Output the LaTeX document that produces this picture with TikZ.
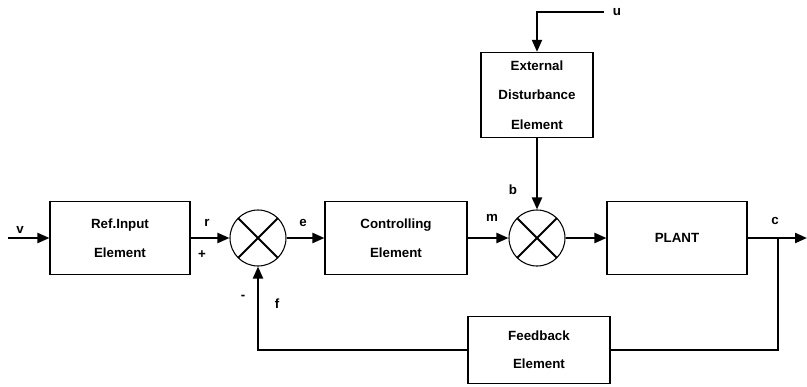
\documentclass[tikz,border=0pt]{standalone}
\usepackage{fontspec}
\setmainfont{Liberation Sans}
\usetikzlibrary{arrows.meta}
\tikzset{
  block/.style={draw,line width=0.8pt,minimum width=0.75*#1,minimum height=55,inner sep=0pt,align=center,font=\fontsize{10}{22}\selectfont\bfseries},
  block/.default=140,
  sumjunc/.style={draw,circle,line width=0.8pt,minimum size=42,inner sep=0pt,
    path picture={\draw[line width=1.5pt] (path picture bounding box.south west) -- (path picture bounding box.north east)
      (path picture bounding box.north west) -- (path picture bounding box.south east);}},
  sig/.style={line width=1.6pt,-{Triangle[length=9pt,width=7.5pt]}},
  wire/.style={line width=1.6pt},
  lbl/.style={font=\fontsize{10}{12}\selectfont\bfseries,inner sep=1pt}
}
\begin{document}
\begin{tikzpicture}[x=0.75pt,y=-0.75pt]
\def\yc{238};
\useasboundingbox[fill=white] (0,0) rectangle (807,386);
% blocks
\node[block] (ref) at (120,\yc) {Ref.Input\\Element};
\node[block=142] (ctrl) at (396,\yc) {Controlling\\Element};
\node[block] (plant) at (677,\yc) {PLANT};
\node[block=112,minimum height=64,font=\fontsize{10}{22}\selectfont\bfseries] (dist) at (537,95) {External\\Disturbance\\Element};
\node[block=142,minimum height=50,font=\fontsize{10}{21}\selectfont\bfseries] (fb) at (539,350) {Feedback\\Element};
% summing points
\foreach \n/\x in {sumA/258,sumB/537} {
  \node[sumjunc] (\n) at (\x,\yc) {};
}
% free ends
\coordinate (vin) at (8,\yc);
\coordinate (cout) at (807,\yc);
\coordinate (uin) at (604,12);
\coordinate (branch) at (778,\yc);
% signals
\draw[sig] (vin) -- (ref);
\draw[sig] (ref) -- (sumA);
\draw[sig] (sumA) -- (ctrl);
\draw[sig] (ctrl) -- (sumB);
\draw[sig] (sumB) -- (plant);
\draw[sig] (plant) -- (cout);
\draw[sig] (uin) -| (dist.north);
\draw[sig] (dist) -- (sumB);
\draw[wire] (branch) |- (fb.east);
\draw[sig] (fb.west) -| (sumA.south);
% labels
\node[lbl] (lv) at (20,230) {v};
\node[lbl] (lr) at (207,223) {r};
\node[lbl] (lplus) at (202,255) {+};
\node[lbl] (le) at (303,223) {e};
\node[lbl] (lm) at (492,218) {m};
\node[lbl] (lb) at (513,190) {b};
\node[lbl] (lu) at (617,12) {u};
\node[lbl] (lc) at (775,221) {c};
\node[lbl] (lf) at (277,304) {f};
\node[lbl] (lminus) at (243,297) {-};
\end{tikzpicture}
\end{document}
